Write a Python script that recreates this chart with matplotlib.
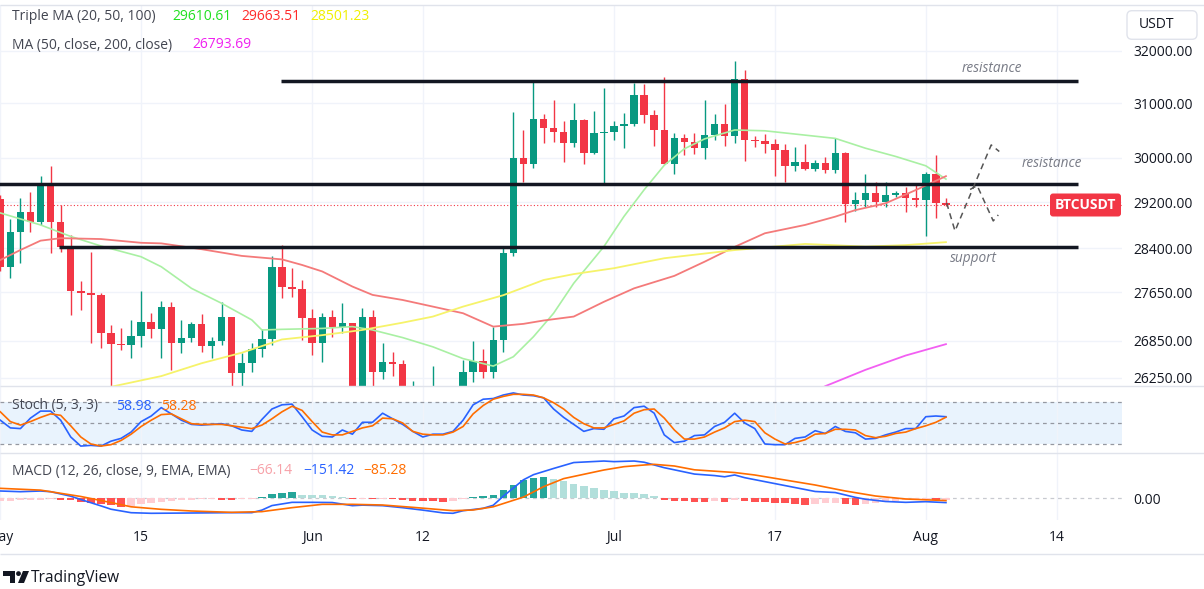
import numpy as np
import matplotlib
matplotlib.use('Agg')
import matplotlib.pyplot as plt
from matplotlib.patches import FancyBboxPatch, Polygon, Circle
from matplotlib.ticker import NullLocator, NullFormatter

plt.rcParams['font.family'] = ['Open Sans', 'DejaVu Sans']

# ---------------- data (daily BTCUSDT, day 0 = May 1) ----------------
open_ = [29250, 28070, 28680, 29030, 28845, 29515, 28845, 28425, 27675, 27640,
         27595, 26970, 26800, 26785, 26925, 27160, 27035, 27405, 26820, 26890,
         27120, 26760, 26850, 27230, 26335, 26485, 26715, 26870, 28080, 27735,
         27700, 27220, 26820, 27245, 27080, 27135, 25760, 27235, 26345, 26510,
         26480, 25840, 25925, 25900, 25955, 25130, 25590, 26345, 26525, 26340,
         26860, 28310, 29995, 29880, 30700, 30535, 30475, 30270, 30695, 30080,
         30450, 30475, 30585, 30620, 31155, 30775, 30510, 29890, 30350, 30290,
         30170, 30415, 30620, 30390, 31455, 30320, 30295, 30250, 30140, 29855,
         29915, 29795, 29910, 29775, 30085, 29175, 29230, 29355, 29210, 29320,
         29355, 29280, 29230, 29705, 29185]
high = [29330, 28900, 29270, 29385, 29670, 29850, 29150, 28630, 27830, 28340,
        27645, 27105, 27060, 27190, 27675, 27300, 27500, 27490, 27190, 27160,
        27290, 26915, 27490, 27245, 26645, 26805, 27035, 28265, 28450, 28055,
        27855, 27365, 27310, 27355, 27465, 27140, 27380, 27360, 26820, 26670,
        26540, 26210, 26090, 26440, 26080, 25750, 26530, 26850, 26715, 27080,
        28420, 30840, 30505, 31440, 30810, 31065, 30675, 31015, 30710, 30860,
        31285, 30675, 30820, 31390, 31360, 30875, 31505, 30450, 30440, 30450,
        31065, 30810, 30990, 31815, 31635, 30395, 30440, 30330, 30250, 30200,
        30250, 29955, 30010, 30360, 30100, 29385, 29700, 29565, 29550, 29400,
        29470, 29540, 29740, 30040, 29270]
low = [28000, 27890, 28140, 28680, 28800, 28320, 28330, 27270, 27355, 26810,
       26730, 25800, 26700, 26570, 26750, 26890, 26570, 26380, 26655, 26835,
       26670, 26570, 26780, 26090, 26000, 26350, 26590, 26780, 27550, 27575,
       26860, 26620, 26510, 26915, 26970, 25390, 25400, 26120, 26230, 26280,
       25400, 25620, 25630, 25720, 24820, 24750, 25170, 26190, 26250, 26250,
       26670, 28260, 29555, 29810, 30270, 30290, 29925, 30200, 29880, 30070,
       29505, 30320, 30170, 30570, 30640, 30210, 29880, 29710, 30050, 30060,
       29970, 30320, 30210, 30270, 29940, 30200, 30080, 29665, 29555, 29760,
       29770, 29760, 29720, 29720, 28860, 29050, 29120, 29110, 29120, 29290,
       29030, 29110, 28600, 28930, 29140]
close = [28070, 28680, 29030, 28845, 29515, 28845, 28425, 27675, 27640, 27595,
         26970, 26800, 26785, 26925, 27160, 27035, 27405, 26820, 26890, 27120,
         26760, 26850, 27230, 26335, 26485, 26715, 26870, 28080, 27735, 27700,
         27220, 26820, 27245, 27080, 27135, 25760, 27235, 26345, 26510, 26480,
         25840, 25925, 25900, 25955, 25130, 25590, 26345, 26525, 26340, 26860,
         28310, 29995, 29880, 30700, 30535, 30475, 30270, 30695, 30080, 30450,
         30475, 30585, 30620, 31155, 30775, 30510, 29890, 30350, 30290, 30170,
         30415, 30620, 30390, 31455, 30320, 30295, 30250, 30140, 29855, 29915,
         29795, 29910, 29775, 30085, 29175, 29230, 29355, 29210, 29320, 29355,
         29280, 29230, 29705, 29185, 29150]

ma20_days = [0, 4, 7, 10, 14, 16, 19, 22, 25, 26, 28, 32, 35, 37, 40, 43, 46, 49,
             51, 53, 55, 57, 60, 62, 64, 66, 68, 70, 73, 76, 80, 83, 86, 89, 92, 94]
ma20_vals = [29010, 28800, 28600, 28435, 28250, 28080, 27715, 27465, 27190, 27025,
             27035, 27050, 27080, 27025, 26900, 26750, 26560, 26440, 26590, 26915,
             27300, 27800, 28425, 28950, 29420, 29860, 30160, 30340, 30505, 30490,
             30410, 30350, 30170, 30020, 29850, 29610.61]
ma50_days = [0, 2, 4, 6, 10, 14, 16, 20, 24, 28, 30, 32, 35, 37, 40, 43, 46, 49,
             52, 54, 57, 60, 63, 67, 70, 73, 76, 80, 83, 85, 88, 91, 94]
ma50_vals = [28195, 28366, 28527, 28570, 28555, 28490, 28480, 28380, 28265, 28205,
             28110, 28000, 27745, 27605, 27520, 27410, 27300, 27080, 27125, 27180,
             27245, 27490, 27715, 27925, 28165, 28420, 28655, 28800, 28945, 29060,
             29180, 29415, 29663.51]
ma100_days = [8, 11, 16, 20, 24, 28, 32, 36, 40, 43, 46, 50, 54, 57, 61, 66, 73,
              80, 86, 90, 94]
ma100_vals = [25990, 26110, 26280, 26485, 26655, 26870, 26940, 27025, 27145, 27245,
              27410, 27600, 27855, 27955, 28055, 28225, 28365, 28470, 28425, 28450,
              28501.23]
ma200_days = [80, 82, 86, 90, 94]
ma200_vals = [25950, 26120, 26380, 26610, 26793.69]

resistance_top = 31424
resistance_mid = 29518
support_level = 28410

proj_a_days = [94.07, 94.9, 98.5, 99.3]
proj_a_prices = [29185, 28695, 30230, 30110]
proj_b_days = [96.4, 97.1, 98.7, 99.2]
proj_b_prices = [29425, 29495, 28870, 28975]

stoch_k = [54, 43, 42, 57, 67, 67, 54, 30, 17, 18, 17, 24, 28, 37, 52, 60, 72, 63,
           54, 48, 47, 48, 49, 46, 40, 38, 55, 70, 76, 77, 59, 40, 31, 30, 40, 34,
           51, 51, 64, 56, 48, 38, 30, 34, 34, 38, 54, 76, 84, 85, 90, 93, 90, 89,
           86, 70, 58, 48, 38, 42, 41, 56, 60, 72, 74, 64, 33, 22, 24, 32, 33, 45,
           51, 64, 50, 42, 20, 19, 19, 28, 30, 39, 35, 45, 38, 36, 27, 28, 33, 37,
           42, 42, 59, 60, 58.98]
stoch_d = [66, 52, 47, 52, 58, 63, 61, 46, 30, 20, 17, 19, 25, 34, 45, 54, 62, 63,
           56, 49, 48, 48, 48, 46, 44, 42, 47, 56, 66, 74, 68, 52, 37, 33, 33, 38,
           43, 46, 57, 56, 50, 38, 34, 33, 33, 37, 45, 63, 75, 84, 88, 91, 91, 90,
           86, 79, 70, 58, 49, 43, 43, 48, 53, 64, 69, 70, 57, 40, 27, 27, 30, 37,
           43, 52, 54, 52, 36, 27, 20, 22, 26, 34, 35, 41, 41, 40, 32, 29, 31, 35,
           37, 42, 46, 51, 58.28]

macd_days = [0, 2, 4, 5, 7, 8, 10, 11, 13, 15, 19, 23, 25, 26, 27, 29, 31, 33, 35,
             36, 38, 40, 42, 44, 45, 46, 48, 49, 50, 52, 53, 55, 57, 60, 61, 63, 64,
             66, 67, 69, 71, 72, 73, 74, 76, 78, 80, 81, 83, 85, 86, 88, 90, 92, 94]
macd_vals = [231, 208, 231, 208, 60, -50, -260, -370, -485, -505, -495, -484, -484,
             -400, -250, -143, -143, -150, -253, -235, -253, -320, -400, -490, -505,
             -420, -340, -240, 60, 600, 770, 975, 1170, 1220, 1200, 1220, 1180, 1000,
             930, 790, 740, 700, 760, 670, 540, 410, 280, 215, 180, 20, -40, -115,
             -143, -121, -151.42]
signal_days = [0, 4, 8, 11, 13, 16, 19, 23, 26, 29, 32, 35, 38, 41, 45, 47, 49, 52,
               54, 56, 60, 62, 64, 65, 67, 69, 73, 75, 78, 81, 84, 87, 90, 94]
signal_vals = [319, 260, 50, -150, -290, -374, -429, -473, -450, -319, -209, -209,
               -231, -308, -418, -396, -290, 30, 374, 640, 924, 1034, 1089, 1111,
               1056, 930, 840, 759, 594, 429, 231, 66, -33, -85.28]
macd_hist = [-100, -90, -80, -70, -60, -40, -50, -80, -130, -170, -210, -240, -290,
             -250, -210, -170, -130, -100, -70, -60, -40, -30, -50, -60, -40, -20,
             40, 120, 160, 190, 110, 100, 90, 70, 40, -30, -20, -30, -25, -30, -60,
             -90, -100, -110, -140, -100, -40, 40, 70, 110, 275, 440, 583, 660, 680,
             640, 550, 460, 385, 330, 275, 220, 165, 160, 130, 77, -55, -88, -110,
             -132, -140, -110, -140, -60, -110, -130, -140, -160, -180, -210, -230,
             -190, -180, -170, -210, -230, -190, -150, -120, -100, -80, -60, -40,
             -70, -66.14]

price_ticks = [26250, 26850, 27650, 28400, 29200, 30000, 31000, 32000]
date_tick_days = [0, 14, 31, 42, 61, 77, 92, 105]
date_tick_labels = ['May', '15', 'Jun', '12', 'Jul', '17', 'Aug', '14']

# ---------------- figure layout ----------------
W, H = 1204, 589
fig = plt.figure(figsize=(W / 100, H / 100), dpi=100)
fig.patch.set_facecolor('white')


def rect(x0, y0, x1, y1):
    return [x0 / W, 1 - y1 / H, (x1 - x0) / W, (y1 - y0) / H]


PR = 1122
XL = (-0.03, 111.5)
FS = 10.0
ax = fig.add_axes(rect(0, 5, PR, 386))
ax_st = fig.add_axes(rect(0, 386, PR, 453))
ax_m = fig.add_axes(rect(0, 453, PR, 520))

GRID = '#f0f3fa'
TXT = '#131722'
for a in (ax, ax_st, ax_m):
    a.set_xlim(*XL)
    for s in a.spines.values():
        s.set_visible(False)
    a.set_xticks(date_tick_days)
    a.set_xticklabels([])
    a.tick_params(axis='both', length=0)
    a.grid(True, axis='x', color=GRID, lw=1)
    a.set_axisbelow(True)
    a.set_facecolor('none')

# ---------------- main price pane ----------------
o = np.array(open_, float); h = np.array(high, float)
l = np.array(low, float); c = np.array(close, float)
days = np.arange(len(c))
up = c >= o
cols = np.where(up, '#089981', '#f23645')

ax.set_yscale('log')
ax.set_ylim(26123, 32904)
ax.yaxis.tick_right()
ax.set_yticks(price_ticks)
ax.yaxis.set_minor_locator(NullLocator())
ax.yaxis.set_minor_formatter(NullFormatter())
ax.set_yticklabels([f'{v:.2f}' for v in price_ticks])
ax.tick_params(axis='y', pad=8, labelsize=FS, labelcolor=TXT)
ax.grid(True, axis='y', color=GRID, lw=1)

ax.axhline(c[-1], color='#f23645', lw=0.8, ls=(0, (1, 2)), zorder=1)
ax.vlines(days, l, h, colors=cols, lw=1.0, zorder=2)
body_lo = np.minimum(o, c)
body_h = np.maximum(np.abs(c - o), 12)
ax.bar(days, body_h, bottom=body_lo, width=0.74, color=cols, linewidth=0, zorder=2.5)

ax.plot(ma20_days, ma20_vals, color='#a9f0a3', lw=1.2, zorder=3)
ax.plot(ma50_days, ma50_vals, color='#f47a7a', lw=1.3, zorder=3)
ax.plot(ma100_days, ma100_vals, color='#f6f36a', lw=1.3, zorder=3)
ax.plot(ma200_days, ma200_vals, color='#f25ff2', lw=1.3, zorder=3)

ax.hlines(resistance_top, 27.9, 107.1, color='#131722', lw=2.5, zorder=5)
ax.hlines(resistance_mid, -1, 107.1, color='#131722', lw=2.5, zorder=5)
ax.hlines(support_level, 5.8, 107.1, color='#131722', lw=2.5, zorder=5)

ax.plot(proj_a_days, proj_a_prices, color='#555555', lw=1.1, ls=(0, (4, 3)), zorder=5)
ax.plot(proj_b_days, proj_b_prices, color='#555555', lw=1.1, ls=(0, (4, 3)), zorder=5)

lab_kw = dict(style='italic', color='#787b86', fontsize=9.8, ha='center', va='center')
ax.text(98.6, 31653, 'resistance', **lab_kw)
ax.text(104.5, 29883, 'resistance', **lab_kw)
ax.text(96.7, 28212, 'support', **lab_kw)

# ---------------- stochastic pane ----------------
ax_st.set_ylim(7.1, 102.9)
ax_st.set_yticks([])
ax_st.axhspan(20, 80, color='#e9f3fd', zorder=0, lw=0)
for v in (20, 50, 80):
    ax_st.axhline(v, color='#9598a1', lw=0.9, ls=(0, (3, 3)), zorder=1)
ax_st.plot(days, stoch_k, color='#2962ff', lw=1.2, zorder=3)
ax_st.plot(days, stoch_d, color='#ff6d00', lw=1.2, zorder=3)

# ---------------- MACD pane ----------------
ax_m.set_ylim(-726, 1485)
hist_cols = []
prev = macd_hist[0] - 1
for v in macd_hist:
    if v >= 0:
        hist_cols.append('#26a69a' if v >= prev else '#b2dfdb')
    else:
        hist_cols.append('#ffcdd2' if v > prev else '#ff5252')
    prev = v
ax_m.axhline(0, color='#c8cad0', lw=0.9, ls=(0, (3, 3)), zorder=1)
ax_m.bar(days, macd_hist, width=0.74, color=hist_cols, linewidth=0, zorder=2)
ax_m.plot(macd_days, macd_vals, color='#2962ff', lw=1.2, zorder=3)
ax_m.plot(signal_days, signal_vals, color='#ff6d00', lw=1.2, zorder=3)
ax_m.yaxis.tick_right()
ax_m.set_yticks([0])
ax_m.set_yticklabels(['0.00'])
ax_m.tick_params(axis='y', pad=8, labelsize=FS, labelcolor=TXT)
ax_m.set_xticklabels(date_tick_labels)
ax_m.tick_params(axis='x', pad=7, labelsize=FS, labelcolor=TXT)

# ---------------- overlay (legends, frame, badges, logo) ----------------
ov = fig.add_axes([0, 0, 1, 1])
ov.set_xlim(0, W)
ov.set_ylim(H, 0)
ov.axis('off')
ov.set_zorder(10)

ov.hlines([5, 386, 453, 554], 0, W, color='#e0e3eb', lw=1)


def t(x, y, s, col, **kw):
    ov.text(x, y, s, color=col, fontsize=FS, va='center', ha='left', **kw)


t(12, 16, 'Triple MA (20, 50, 100)', '#434651')
t(172, 16, '29610.61', '#1fe01f')
t(241, 16, '29663.51', '#ff2a2a')
t(310, 16, '28501.23', '#f0f000')
t(12, 45, 'MA (50, close, 200, close)', '#434651')
t(192, 45, '26793.69', '#f020f0')

t(12, 406, 'Stoch (5, 3, 3)', '#434651')
t(116, 406, '58.98', '#2962ff')
t(161, 406, '58.28', '#ff6d00')

t(12, 471, 'MACD (12, 26, close, 9, EMA, EMA)', '#434651')
t(249, 471, '\u221266.14', '#f7a1a8')
t(303, 471, '\u2212151.42', '#2962ff')
t(363, 471, '\u221285.28', '#ff6d00')

ov.add_patch(FancyBboxPatch((1127, 10.7), 70, 28.6,
                            boxstyle='round,pad=0,rounding_size=5',
                            fc='white', ec='#e0e3eb', lw=1))
t(1139, 25, 'USDT', TXT)

ov.add_patch(FancyBboxPatch((1050, 193.5), 71, 23,
                            boxstyle='round,pad=0,rounding_size=3',
                            fc='#f23645', ec='none'))
ov.text(1085.5, 205, 'BTCUSDT', color='white', fontsize=FS, fontweight='bold',
        ha='center', va='center')

# TradingView logo
ov.add_patch(Polygon([(3, 571), (15, 571), (15, 583), (9.5, 583), (9.5, 576), (3, 576)],
                     closed=True, fc='#131722', ec='none'))
ov.add_patch(Circle((18.5, 573.6), 2.4, fc='#131722', ec='none'))
ov.add_patch(Polygon([(23, 571), (29, 571), (24, 583), (18, 583)],
                     closed=True, fc='#131722', ec='none'))
ov.text(31, 578, 'TradingView', color=TXT, fontsize=11.2, va='center', ha='left')

fig.savefig('out.png', dpi=100)
